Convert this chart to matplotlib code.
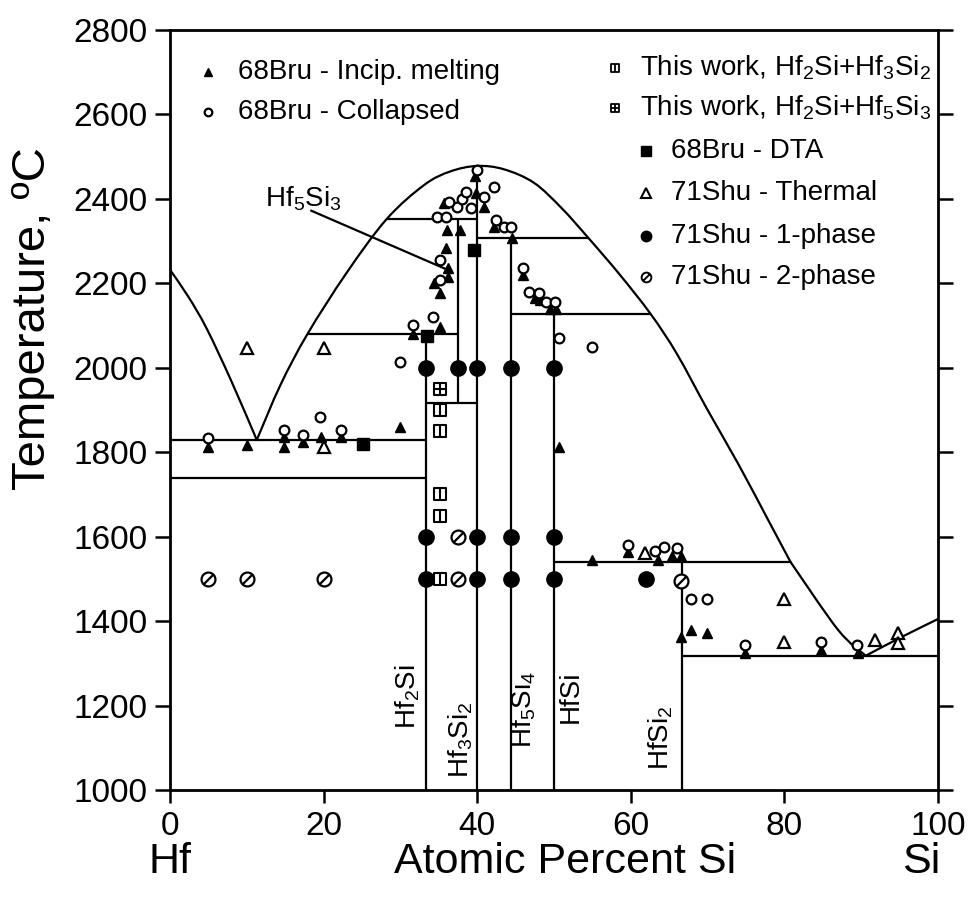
import matplotlib
matplotlib.use("Agg")
import matplotlib.pyplot as plt
from matplotlib.path import Path
from matplotlib.patches import PathPatch
import numpy as np

plt.rcParams['font.family'] = ['Liberation Sans', 'DejaVu Sans']
plt.rcParams['mathtext.fontset'] = 'custom'
plt.rcParams['mathtext.rm'] = 'Liberation Sans'
plt.rcParams['mathtext.it'] = 'Liberation Sans:italic'
plt.rcParams['mathtext.bf'] = 'Liberation Sans:bold'

# ---------------- phase boundary lines (at.% Si, deg C) ----------------
liq_hf_x = [0, 2.4, 4.8, 8.0, 11.3]
liq_hf_t = [2232, 2168, 2092, 1968, 1829]
dome_x = [11.3, 14.4, 17.9, 23.0, 28.2, 33.1, 36.5, 40.0, 43.5, 47.4, 51.0, 54.5, 58.5, 62.6, 66.0, 70.0, 74.0, 77.9, 80.8]
dome_t = [1829, 1960, 2080, 2225, 2352, 2433, 2465, 2478, 2470, 2438, 2378, 2307, 2222, 2127, 2033, 1900, 1772, 1639, 1540]
liq_si_x = [80.8, 87.0, 90.6]
liq_si_t = [1540, 1379, 1318]
liq_si2_x = [90.6, 95.0, 100.0]
liq_si2_t = [1318, 1360, 1405]

vert_x = [33.33, 37.5, 40.0, 44.44, 50.0, 66.67]
vert_lo = [1000, 1917, 1000, 1000, 1000, 1000]
vert_hi = [2080, 2352, 2478, 2307, 2127, 1540]

horiz_t = [1829, 1740, 2080, 2352, 1917, 2307, 2127, 1540, 1318]
horiz_x0 = [0, 0, 17.9, 28.2, 33.33, 40.0, 44.44, 50.0, 66.67]
horiz_x1 = [33.33, 33.33, 37.5, 40.0, 40.0, 54.5, 62.6, 80.8, 100]

# ---------------- experimental data ----------------
bru_incip_x = [4.9, 10, 14.9, 14.9, 17.3, 19.7, 22.3, 30.0,
               31.6, 35.1, 34.4, 35.1, 36.2, 36.2, 36.0, 36.1, 37.7, 35.7, 39.9, 40.9, 42.2, 44.5,
               45.9, 47.5, 48.2, 49.5, 50.2, 39.7,
               50.6, 55.0, 59.7, 63.6, 65.3, 66.5, 66.5, 67.8, 69.9, 74.9, 84.8, 89.6]
bru_incip_t = [1812, 1818, 1835, 1812, 1825, 1835, 1835, 1860,
               2080, 2096, 2200, 2177, 2215, 2236, 2284, 2326, 2326, 2390, 2414, 2380, 2333, 2307,
               2220, 2165, 2160, 2140, 2140, 2455,
               1812, 1545, 1564, 1545, 1555, 1555, 1362, 1379, 1372, 1324, 1331, 1324]

bru_coll_x = [4.9, 14.9, 17.3, 19.5, 22.3, 30.0,
              31.6, 34.2, 35.1, 35.1, 34.8, 36.0, 37.4, 39.2, 38.0, 38.6, 40.9, 42.2, 40.0, 36.3,
              42.5, 43.5, 44.4, 45.9, 46.8, 48.1, 49.0, 50.1, 50.6, 55.0,
              59.7, 63.2, 64.3, 66.0, 67.8, 69.9, 74.9, 84.8, 89.4]
bru_coll_t = [1834, 1853, 1841, 1884, 1853, 2014,
              2101, 2120, 2255, 2208, 2357, 2357, 2381, 2378, 2400, 2416, 2405, 2428, 2468, 2392,
              2350, 2333, 2333, 2236, 2180, 2178, 2155, 2155, 2070, 2050,
              1580, 1565, 1575, 1572, 1452, 1452, 1343, 1350, 1343]

shu_thermal_x = [10, 20, 20.1, 61.8, 79.9, 79.9, 91.8, 94.8, 94.8]
shu_thermal_t = [2048, 2048, 1812, 1561, 1452, 1350, 1355, 1372, 1348]

bru_dta_x = [25.1, 33.4, 39.6]
bru_dta_t = [1820, 2075, 2279]

shu_one_x = [33.33, 37.5, 40, 44.44, 50, 33.33, 40, 44.44, 50, 33.33, 40, 44.44, 50, 62]
shu_one_t = [2000, 2000, 2000, 2000, 2000, 1600, 1600, 1600, 1600, 1500, 1500, 1500, 1500, 1500]

shu_two_x = [5, 10, 20, 37.5, 37.5, 66.5]
shu_two_t = [1500, 1500, 1500, 1600, 1500, 1495]

tw_32_x = [35.1, 35.1, 35.1, 35.1, 35.1]
tw_32_t = [1900, 1850, 1700, 1650, 1500]
tw_53_x = [35.1]
tw_53_t = [1950]

legend_left = ['68Bru - Incip. melting', '68Bru - Collapsed']
legend_right = [r'This work, Hf$_2$Si+Hf$_3$Si$_2$', r'This work, Hf$_2$Si+Hf$_5$Si$_3$',
                '68Bru - DTA', '71Shu - Thermal', '71Shu - 1-phase', '71Shu - 2-phase']

phase_names = [r'Hf$_2$Si', r'Hf$_3$Si$_2$', r'Hf$_5$Si$_4$', 'HfSi', r'HfSi$_2$']
phase_lab_x = [30.9, 37.8, 46.1, 52.2, 63.9]
phase_lab_t = [1220, 1118, 1190, 1220, 1125]

annot_text_xy = (17.4, 2400)
annot_line_x = [18.4, 36.4]
annot_line_t = [2372, 2230]

xticks = [0, 20, 40, 60, 80, 100]
yticks = [1000, 1200, 1400, 1600, 1800, 2000, 2200, 2400, 2600, 2800]

# ---------------- custom markers ----------------
sq = [(-1, -1), (1, -1), (1, 1), (-1, 1), (-1, -1)]
sq_codes = [Path.MOVETO, Path.LINETO, Path.LINETO, Path.LINETO, Path.CLOSEPOLY]
m_sq_v = Path(sq + [(0, -1), (0, 1)], sq_codes + [Path.MOVETO, Path.LINETO])
m_sq_x = Path(sq + [(0, -1), (0, 1), (-1, 0), (1, 0)],
              sq_codes + [Path.MOVETO, Path.LINETO, Path.MOVETO, Path.LINETO])
m_slash = Path.make_compound_path(Path.unit_circle(),
                                  Path([(-0.6, -0.6), (0.6, 0.6)], [Path.MOVETO, Path.LINETO]))


def smooth_path(xs, ys):
    """Catmull-Rom curve through the given points, as cubic Bezier segments."""
    p = np.column_stack([xs, ys]).astype(float)
    ext = np.vstack([p[0], p, p[-1]])
    verts = [tuple(p[0])]
    codes = [Path.MOVETO]
    for i in range(1, len(ext) - 2):
        p0, p1, p2, p3 = ext[i - 1], ext[i], ext[i + 1], ext[i + 2]
        c1 = p1 + (p2 - p0) / 6.0
        c2 = p2 - (p3 - p1) / 6.0
        verts += [tuple(c1), tuple(c2), tuple(p2)]
        codes += [Path.CURVE4] * 3
    return Path(verts, codes)


# ---------------- figure ----------------
fig = plt.figure(figsize=(9.76, 9.02), dpi=100)
ax = fig.add_axes([170 / 976, 1 - 790 / 902, 768 / 976, 760 / 902])
ax.set_xlim(0, 100)
ax.set_ylim(1000, 2800)

lw = 1.6
for xs, ts in [(liq_hf_x, liq_hf_t), (dome_x, dome_t), (liq_si_x, liq_si_t), (liq_si2_x, liq_si2_t)]:
    ax.add_patch(PathPatch(smooth_path(xs, ts), fill=False, edgecolor='black', lw=lw,
                           capstyle='round', joinstyle='round'))
ax.vlines(vert_x, vert_lo, vert_hi, color='black', lw=lw)
ax.hlines(horiz_t, horiz_x0, horiz_x1, color='black', lw=lw)

styles = [
    (bru_incip_x, bru_incip_t, dict(marker='^', ms=7.5, mfc='black', mec='black')),
    (bru_coll_x, bru_coll_t, dict(marker='o', ms=7, mfc='white', mec='black', mew=1.6)),
    (shu_thermal_x, shu_thermal_t, dict(marker='^', ms=8.5, mfc='white', mec='black', mew=1.6)),
    (bru_dta_x, bru_dta_t, dict(marker='s', ms=8, mfc='black', mec='black')),
    (shu_one_x, shu_one_t, dict(marker='o', ms=11, mfc='black', mec='black')),
    (shu_two_x, shu_two_t, dict(marker=m_slash, ms=10, mfc='white', mec='black', mew=1.6)),
    (tw_32_x, tw_32_t, dict(marker=m_sq_v, ms=8, mfc='white', mec='black', mew=1.5)),
    (tw_53_x, tw_53_t, dict(marker=m_sq_x, ms=8, mfc='white', mec='black', mew=1.5)),
]
for xs, ts, st in styles:
    ax.plot(xs, ts, ls='none', zorder=3, **st)

# legend keys and texts (axes fraction)
fs_leg = 20
key_left = [dict(marker='^', ms=6, mfc='black', mec='black'),
            dict(marker='o', ms=5.5, mfc='white', mec='black', mew=1.6)]
for i, (lab, st) in enumerate(zip(legend_left, key_left)):
    fy = (790 - (72 + 40 * i)) / 760
    ax.plot([0.0495], [fy], transform=ax.transAxes, ls='none', clip_on=False, **st)
    ax.text(0.0885, fy, lab, transform=ax.transAxes, fontsize=fs_leg, va='center', ha='left')

key_right = [dict(marker=m_sq_v, ms=6, mfc='white', mec='black', mew=1.3),
             dict(marker=m_sq_x, ms=6, mfc='white', mec='black', mew=1.3),
             dict(marker='s', ms=6.5, mfc='black', mec='black'),
             dict(marker='^', ms=6.5, mfc='white', mec='black', mew=1.5),
             dict(marker='o', ms=7.5, mfc='black', mec='black'),
             dict(marker=m_slash, ms=7, mfc='white', mec='black', mew=1.4)]
rows_py = [68, 108, 151, 193, 236, 277]
for i, (lab, st) in enumerate(zip(legend_right, key_right)):
    fy = (790 - rows_py[i]) / 760
    if i < 2:
        kx, tx = (615 - 170) / 768, (640 - 170) / 768
    else:
        kx, tx = (646 - 170) / 768, (671 - 170) / 768
    ax.plot([kx], [fy], transform=ax.transAxes, ls='none', clip_on=False, **st)
    ax.text(tx, fy, lab, transform=ax.transAxes, fontsize=fs_leg, va='center', ha='left')

# phase labels
for name, px, pt in zip(phase_names, phase_lab_x, phase_lab_t):
    ax.text(px, pt, name, rotation=90, fontsize=20, ha='center', va='center')

# Hf5Si3 annotation
ax.text(annot_text_xy[0], annot_text_xy[1], r'Hf$_5$Si$_3$', fontsize=20, ha='center', va='center')
ax.plot(annot_line_x, annot_line_t, color='black', lw=1.6)

# axes styling
for s in ax.spines.values():
    s.set_linewidth(2)
ax.set_xticks(xticks)
ax.set_yticks(yticks)
ax.tick_params(axis='both', direction='out', width=1.8, labelsize=24)
ax.tick_params(axis='y', length=11, pad=5, right=True)
ax.tick_params(axis='x', length=9, pad=6)

ax.text(0, -0.095, 'Hf', transform=ax.get_xaxis_transform(), fontsize=31, ha='center', va='center')
ax.text(100.3, -0.095, 'Si', transform=ax.get_xaxis_transform(), fontsize=31, ha='right', va='center')
ax.text(51.5, -0.095, 'Atomic Percent Si', transform=ax.get_xaxis_transform(), fontsize=31,
        ha='center', va='center')
ax.text(-0.178, 0.62, 'Temperature, ºC', transform=ax.transAxes, fontsize=34, rotation=90,
        ha='center', va='center')

fig.savefig('out.png', dpi=100)
